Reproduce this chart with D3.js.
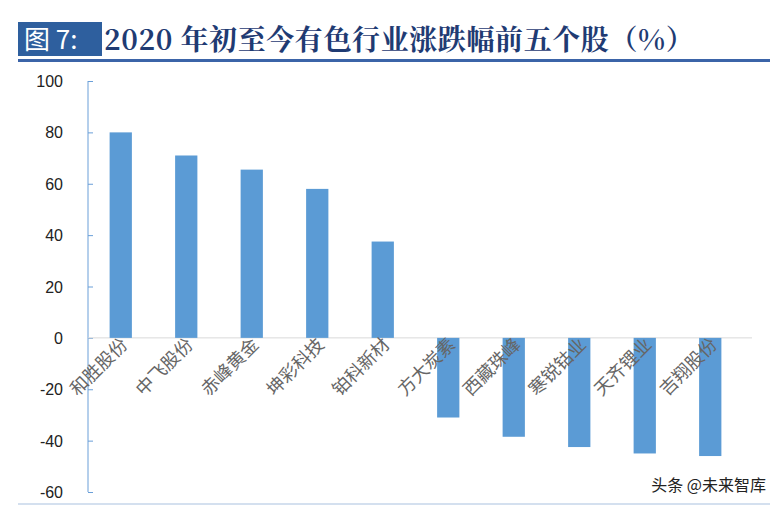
<!DOCTYPE html><html><head><meta charset="utf-8"><script src="https://cdn.jsdelivr.net/npm/d3@7"></script>
<style>body{margin:0;background:#fff}</style></head><body><svg id="c" width="780" height="507"></svg><script>
const categories=["和胜股份","中飞股份","赤峰黄金","坤彩科技","铂科新材","方大炭素","西藏珠峰","寒锐钴业","天齐锂业","吉翔股份"];
const values=[80,71,65.5,58,37.5,-31,-38.5,-42.5,-45,-46];
const ticks=[100,80,60,40,20,0,-20,-40,-60];
const svg=d3.select("#c");
svg.append("rect").attr("x",18).attr("y",22).attr("width",84).attr("height",34).attr("fill","#2e5f9e");
svg.append("text").attr("x",24).attr("y",49).attr("fill","#fff").attr("font-family","Noto Sans CJK SC").attr("font-size",26).text("图 7:");
svg.append("text").attr("x",104).attr("y",50).attr("fill","#1f3b73").attr("font-family","Noto Serif CJK SC, Liberation Serif, Noto Sans CJK SC").attr("font-weight","bold").attr("font-size",28).attr("letter-spacing",0.6).text("2020 年初至今有色行业涨跌幅前五个股（%）");
svg.append("rect").attr("x",18).attr("y",59).attr("width",752).attr("height",3).attr("fill","#3b64a8");
svg.append("line").attr("x1",18).attr("x2",770).attr("y1",504).attr("y2",504).attr("stroke","#c6d6ea").attr("stroke-width",1.5);
const y=d3.scaleLinear().domain([-60,100]).range([492,81]);
const x=d3.scaleBand().domain(categories).range([88,743]).paddingInner(0.66).paddingOuter(0.33);
const ax=svg.append("g").attr("transform","translate(88,0)").call(d3.axisRight(y).tickValues(ticks).tickSize(5).tickFormat(""));
ax.selectAll("line,path").attr("stroke","#6a9fd8");
ax.select("path").attr("d","M0,"+y(100)+"V"+y(-60));
ticks.forEach(t=>svg.append("text").attr("x",63).attr("y",y(t)+6).attr("text-anchor","end").attr("font-family","Liberation Sans").attr("font-size",16).attr("fill","#222").text(t));
svg.append("line").attr("x1",88).attr("x2",752).attr("y1",y(0)).attr("y2",y(0)).attr("stroke","#d9d9d9");
svg.selectAll(".b").data(values).join("rect").attr("x",(d,i)=>x(categories[i])).attr("width",x.bandwidth())
 .attr("y",d=>y(Math.max(0,d))).attr("height",d=>Math.abs(y(d)-y(0))).attr("fill","#5b9bd5");
categories.forEach(c=>{const cx=x(c)+x.bandwidth()/2+8;
 svg.append("text").attr("transform",`translate(${cx},${y(0)+8}) rotate(-45)`).attr("text-anchor","end").attr("font-family","Noto Sans CJK SC").attr("font-size",18).attr("fill","#666").text(c);});
svg.append("text").attr("x",766).attr("y",491).attr("text-anchor","end").attr("font-family","Noto Sans CJK SC").attr("font-size",16).attr("fill","#222").text("头条 @未来智库");
</script></body></html>
